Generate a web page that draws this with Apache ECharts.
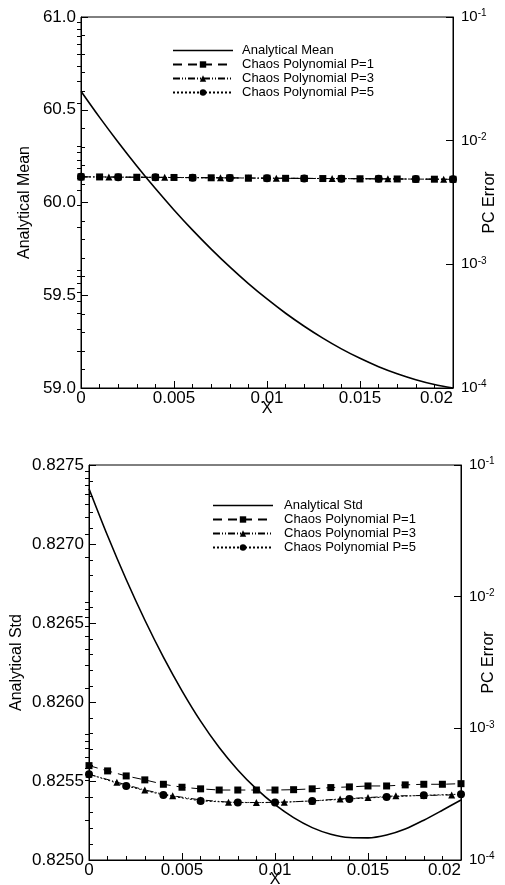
<!DOCTYPE html>
<html><head><meta charset="utf-8">
<script src="https://cdn.jsdelivr.net/npm/echarts@6/dist/echarts.min.js"></script>
<style>html,body{margin:0;padding:0;background:#fff}#c{width:505px;height:885px}</style>
</head><body><div id="c"></div>
<script>
// ---------- data ----------
const xFine = [0,0.001,0.002,0.003,0.004,0.005,0.006,0.007,0.008,0.009,0.010,0.011,0.012,0.013,0.014,0.015,0.016,0.017,0.018,0.019,0.020];
const xP3 = [0,0.0015,0.003,0.0045,0.006,0.0075,0.009,0.0105,0.012,0.0135,0.015,0.0165,0.018,0.0195];
const xP5 = [0,0.002,0.004,0.006,0.008,0.010,0.012,0.014,0.016,0.018,0.020];

const meanAnalytical = [60.600,60.459,60.325,60.197,60.075,59.960,59.851,59.749,59.653,59.563,59.480,59.403,59.333,59.269,59.211,59.160,59.115,59.077,59.045,59.019,59.000];
const meanErrP1 = [5.10e-3,5.09e-3,5.08e-3,5.06e-3,5.05e-3,5.04e-3,5.02e-3,5.01e-3,5.00e-3,4.99e-3,4.97e-3,4.96e-3,4.95e-3,4.94e-3,4.93e-3,4.92e-3,4.91e-3,4.90e-3,4.89e-3,4.88e-3,4.87e-3];
const meanErrP3 = [5.10e-3,5.08e-3,5.06e-3,5.05e-3,5.03e-3,5.01e-3,4.99e-3,4.97e-3,4.96e-3,4.94e-3,4.93e-3,4.91e-3,4.89e-3,4.88e-3];
const meanErrP5 = [5.10e-3,5.07e-3,5.05e-3,5.02e-3,5.00e-3,4.97e-3,4.95e-3,4.93e-3,4.91e-3,4.89e-3,4.87e-3];

const stdAnalytical = [0.827350,0.827052,0.826775,0.826519,0.826284,0.826071,0.825879,0.825712,0.825570,0.825450,0.825350,0.825268,0.825205,0.825163,0.825142,0.825140,0.825158,0.825196,0.825252,0.825315,0.825380];
const stdErrP1 = [5.21e-4,4.75e-4,4.35e-4,4.06e-4,3.76e-4,3.57e-4,3.47e-4,3.40e-4,3.40e-4,3.40e-4,3.40e-4,3.42e-4,3.47e-4,3.55e-4,3.59e-4,3.65e-4,3.65e-4,3.72e-4,3.76e-4,3.76e-4,3.80e-4];
const stdErrP3 = [4.48e-4,3.90e-4,3.40e-4,3.07e-4,2.86e-4,2.75e-4,2.73e-4,2.75e-4,2.81e-4,2.91e-4,2.98e-4,3.07e-4,3.09e-4,3.12e-4];
const stdErrP5 = [4.48e-4,3.65e-4,3.12e-4,2.81e-4,2.73e-4,2.73e-4,2.81e-4,2.91e-4,3.01e-4,3.10e-4,3.16e-4];

const logMajor = [1e-4,1e-3,1e-2,1e-1];
const logMinor = [2e-4,3e-4,4e-4,5e-4,6e-4,7e-4,8e-4,9e-4,2e-3,3e-3,4e-3,5e-3,6e-3,7e-3,8e-3,9e-3,2e-2,3e-2,4e-2,5e-2,6e-2,7e-2,8e-2,9e-2];

const namesTop = ['Analytical Mean','Chaos Polynomial P=1','Chaos Polynomial P=3','Chaos Polynomial P=5'];
const namesBot = ['Analytical Std','Chaos Polynomial P=1','Chaos Polynomial P=3','Chaos Polynomial P=5'];

// ---------- helpers ----------
const FONT = 'Liberation Sans, Arial, Helvetica, sans-serif';
const zip = (xs, ys) => xs.map((x, i) => [x, ys[i]]);
const black = '#000';
const tickFont = 17;
const lineIcon = 'path://M0,0L60,0L60,1.6L0,1.6Z';

function xAxisDef(grid, gap) {
  return {
    type: 'value', gridIndex: grid, min: 0, max: 0.02, interval: 0.005,
    name: 'X', nameLocation: 'middle', nameGap: gap, nameMoveOverlap: false,
    nameTextStyle: {color: black, fontFamily: FONT, fontSize: 16},
    axisLine: {show: true, onZero: false, lineStyle: {color: black, width: 1}},
    axisTick: {show: true, inside: true, length: 7, lineStyle: {color: black}},
    minorTick: {show: true, splitNumber: 5, length: 4, lineStyle: {color: black}},
    splitLine: {show: false},
    axisLabel: {color: black, fontFamily: FONT, fontSize: tickFont, margin: 2,
      alignMaxLabel: 'right', formatter: v => String(+v.toFixed(3))}
  };
}
function leftAxisDef(grid, min, max, interval, dec, name, gap) {
  return {
    type: 'value', gridIndex: grid, min, max, interval, position: 'left',
    name, nameLocation: 'middle', nameGap: gap, nameRotate: 90, nameMoveOverlap: false,
    nameTextStyle: {color: black, fontFamily: FONT, fontSize: 16},
    axisLine: {show: true, lineStyle: {color: black}},
    axisTick: {show: true, inside: true, length: 7, lineStyle: {color: black}},
    minorTick: {show: true, splitNumber: 5, length: 4, lineStyle: {color: black}},
    splitLine: {show: false},
    axisLabel: {color: black, fontFamily: FONT, fontSize: tickFont, margin: 5,
      formatter: v => v.toFixed(dec)}
  };
}
function logAxisDef(grid, gap) {
  return {
    type: 'log', gridIndex: grid, min: 1e-4, max: 1e-1, logBase: 10, position: 'right',
    name: 'PC Error', nameLocation: 'middle', nameGap: gap, nameRotate: 90, nameMoveOverlap: false,
    nameTextStyle: {color: black, fontFamily: FONT, fontSize: 16},
    axisLine: {show: true, lineStyle: {color: black}},
    axisTick: {show: true, inside: true, length: 7, customValues: logMajor, lineStyle: {color: black}},
    splitLine: {show: false},
    axisLabel: {
      customValues: logMajor, margin: 8, color: black, fontFamily: FONT,
      formatter: v => '{b|10}{s|' + Math.round(Math.log10(v)) + '}',
      rich: {
        b: {fontSize: 15, fontFamily: FONT, color: black, lineHeight: 17},
        s: {fontSize: 10, fontFamily: FONT, color: black, lineHeight: 10, verticalAlign: 'top'}
      }
    }
  };
}
function minorLogAxisDef(grid) {
  return {
    type: 'log', gridIndex: grid, min: 1e-4, max: 1e-1, logBase: 10, position: 'right',
    axisLine: {show: false},
    axisTick: {show: true, inside: true, length: 4, customValues: logMinor, lineStyle: {color: black}},
    axisLabel: {show: false}, splitLine: {show: false}
  };
}
function pcSeries(name, xi, yi, xs, ys, symbol, size, dash) {
  return {
    type: 'line', name, xAxisIndex: xi, yAxisIndex: yi, data: zip(xs, ys),
    symbol, symbolSize: size, showAllSymbol: true, smooth: false,
    itemStyle: {color: black},
    lineStyle: {color: black, width: 1, type: dash},
    animation: false
  };
}
const dashP1 = [9, 6];
const dashP3 = [7, 2, 1, 2, 1, 2];
const dashP5 = [2, 2];

const gridTop = {left: 81, right: 52, top: 17, height: 371, outerBoundsMode: 'none', containLabel: false};
const gridBot = {left: 89, right: 44, top: 465, height: 395, outerBoundsMode: 'none', containLabel: false};

const legendItems = (names) => names.map((n, i) => i === 0 ? {name: n, icon: lineIcon} : {name: n});

const option = {
  backgroundColor: '#fff',
  animation: false,
  grid: [
    Object.assign({show: true, borderColor: black, borderWidth: 1, backgroundColor: 'transparent'}, gridTop),
    Object.assign({show: true, borderColor: black, borderWidth: 1, backgroundColor: 'transparent'}, gridBot),
    Object.assign({}, gridTop),
    Object.assign({}, gridBot)
  ],
  xAxis: [
    xAxisDef(0, 13), xAxisDef(1, 12),
    {type: 'value', gridIndex: 2, min: 0, max: 0.02, show: false},
    {type: 'value', gridIndex: 3, min: 0, max: 0.02, show: false}
  ],
  yAxis: [
    leftAxisDef(0, 59, 61, 0.5, 1, 'Analytical Mean', 48),
    logAxisDef(0, 29),
    leftAxisDef(1, 0.825, 0.8275, 0.0005, 4, 'Analytical Std', 64),
    logAxisDef(1, 20),
    minorLogAxisDef(2),
    minorLogAxisDef(3)
  ],
  legend: [
    {data: legendItems(namesTop), orient: 'vertical', left: 172, top: 44, padding: 0, itemWidth: 60, itemHeight: 8, itemGap: 1,
     textStyle: {fontFamily: FONT, fontSize: 13, color: black, padding: [0, 0, 0, 4]}, selectedMode: false},
    {data: legendItems(namesBot), orient: 'vertical', left: 212, top: 499, padding: 0, itemWidth: 60, itemHeight: 8, itemGap: 1,
     textStyle: {fontFamily: FONT, fontSize: 13, color: black, padding: [0, 0, 0, 6]}, selectedMode: false}
  ],
  series: [
    {type: 'line', name: 'Analytical Mean', xAxisIndex: 0, yAxisIndex: 0, data: zip(xFine, meanAnalytical),
     symbol: 'none', smooth: 0.3, lineStyle: {color: black, width: 1.6}, itemStyle: {color: black}},
    pcSeries('Chaos Polynomial P=1', 0, 1, xFine, meanErrP1, 'rect', 7, dashP1),
    pcSeries('Chaos Polynomial P=3', 0, 1, xP3, meanErrP3, 'triangle', 7, dashP3),
    pcSeries('Chaos Polynomial P=5', 0, 1, xP5, meanErrP5, 'circle', 8, dashP5),

    {type: 'line', name: 'Analytical Std', xAxisIndex: 1, yAxisIndex: 2, data: zip(xFine, stdAnalytical),
     symbol: 'none', smooth: 0.3, lineStyle: {color: black, width: 1.6}, itemStyle: {color: black}},
    pcSeries('Chaos Polynomial P=1', 1, 3, xFine, stdErrP1, 'rect', 7, dashP1),
    pcSeries('Chaos Polynomial P=3', 1, 3, xP3, stdErrP3, 'triangle', 7, dashP3),
    pcSeries('Chaos Polynomial P=5', 1, 3, xP5, stdErrP5, 'circle', 8, dashP5)
  ]
};
const chart = echarts.init(document.getElementById('c'), null, {renderer: 'canvas'});
chart.setOption(option);
</script>
</body></html>
